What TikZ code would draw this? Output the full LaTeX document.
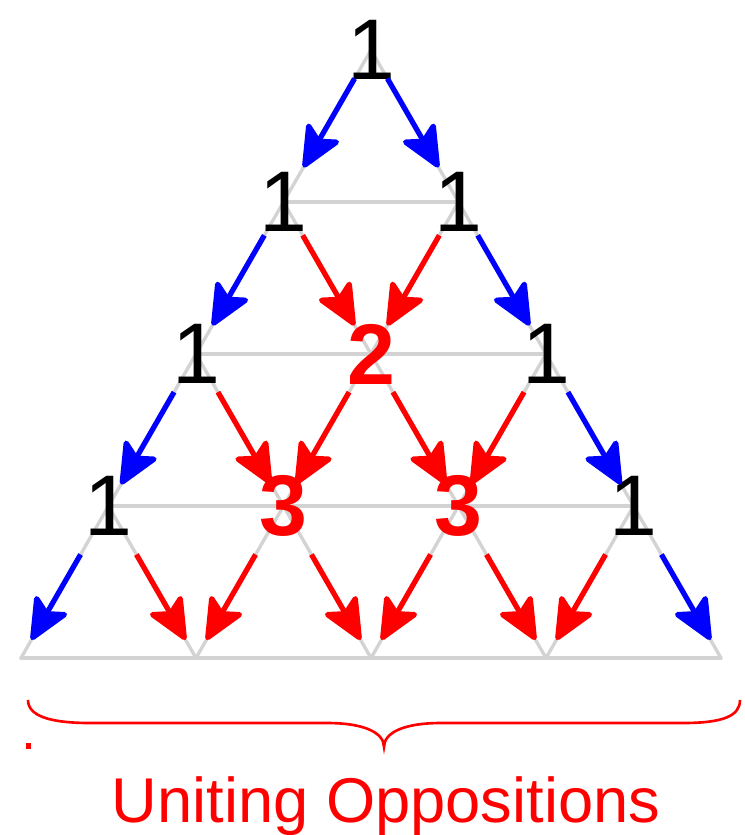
\documentclass[tikz,border=0pt]{standalone}
\usepackage{fontspec}
\setmainfont{Liberation Sans}
\usepackage{xcolor}
\definecolor{PascalRed}{HTML}{FF0000}
\definecolor{PascalBlue}{HTML}{0000FF}
\definecolor{PascalGrid}{HTML}{D3D3D3}
\usepackage{tikz}
\usetikzlibrary{arrows.meta,positioning}
\tikzset{
  pgrid/.style={draw=PascalGrid,line width=1.9pt,line cap=round},
  pone/.style={font=\fontsize{49}{49}\selectfont,text=black,inner sep=0pt},
  psum/.style={font=\fontsize{49}{49}\selectfont\bfseries,text=PascalRed,inner sep=0pt},
  pouter/.style={-{Stealth[length=27pt,width=24pt,inset=6pt,round]},draw=PascalBlue,line width=3pt},
  pinner/.style={-{Stealth[length=27pt,width=24pt,inset=6pt,round]},draw=PascalRed,line width=3pt},
  rowa/.style={shorten <=0.66cm,shorten >=0.8cm},
  rowb/.style={shorten <=0.77cm,shorten >=0.66cm},
  rowc/.style={shorten <=0.88cm,shorten >=0.5cm},
  rowd/.style={shorten <=1.12cm,shorten >=0.42cm},
  pbrace/.style={draw=PascalRed,line width=1.5pt},
  plabel/.style={font=\fontsize{36}{36}\selectfont,text=PascalRed,inner sep=0pt}
}
\begin{document}
\begin{tikzpicture}[x=0.02cm,y=-0.02cm]
  \useasboundingbox (0,0) rectangle (744,835);
  % vertices of the triangle
  \coordinate (v00) at (371,50);
  \coordinate (v10) at (283.5,202);
  \coordinate (v11) at (458.5,202);
  \coordinate (v20) at (196,354);
  \coordinate (v21) at (371,354);
  \coordinate (v22) at (546,354);
  \coordinate (v30) at (108.5,506);
  \coordinate (v31) at (283.5,506);
  \coordinate (v32) at (458.5,506);
  \coordinate (v33) at (633.5,506);
  \coordinate (v40) at (21,658);
  \coordinate (v41) at (196,658);
  \coordinate (v42) at (371,658);
  \coordinate (v43) at (546,658);
  \coordinate (v44) at (721,658);
  % grid
  \draw[pgrid] (v10) -- (v11);
  \draw[pgrid] (v20) -- (v22);
  \draw[pgrid] (v30) -- (v33);
  \draw[pgrid] (v40) -- (v44);
  \draw[pgrid] (v00) -- (v40);
  \draw[pgrid] (v11) -- (v41);
  \draw[pgrid] (v22) -- (v42);
  \draw[pgrid] (v33) -- (v43);
  \draw[pgrid] (v00) -- (v44);
  \draw[pgrid] (v10) -- (v43);
  \draw[pgrid] (v20) -- (v42);
  \draw[pgrid] (v30) -- (v41);
  % numbers
  \node[pone] (n00) at (v00) {1};
  \node[pone] (n10) at (v10) {1};
  \node[pone] (n11) at (v11) {1};
  \node[pone] (n20) at (v20) {1};
  \node[psum] (n21) at (v21) {2};
  \node[pone] (n22) at (v22) {1};
  \node[pone] (n30) at (v30) {1};
  \node[psum] (n31) at (v31) {3};
  \node[psum] (n32) at (v32) {3};
  \node[pone] (n33) at (v33) {1};
  % arrows
  \draw[pouter,rowa] (v00) -- (v10);
  \draw[pouter,rowa] (v00) -- (v11);
  \draw[pouter,rowb] (v10) -- (v20);
  \draw[pinner,rowb] (v10) -- (v21);
  \draw[pinner,rowb] (v11) -- (v21);
  \draw[pouter,rowb] (v11) -- (v22);
  \draw[pouter,rowc] (v20) -- (v30);
  \draw[pinner,rowc] (v20) -- (v31);
  \draw[pinner,rowc] (v21) -- (v31);
  \draw[pinner,rowc] (v21) -- (v32);
  \draw[pinner,rowc] (v22) -- (v32);
  \draw[pouter,rowc] (v22) -- (v33);
  \draw[pouter,rowd] (v30) -- (v40);
  \draw[pinner,rowd] (v30) -- (v41);
  \draw[pinner,rowd] (v31) -- (v41);
  \draw[pinner,rowd] (v31) -- (v42);
  \draw[pinner,rowd] (v32) -- (v42);
  \draw[pinner,rowd] (v32) -- (v43);
  \draw[pinner,rowd] (v33) -- (v43);
  \draw[pouter,rowd] (v33) -- (v44);
  % brace and caption
  \draw[pbrace] (28,700) .. controls (28,716) and (50,723) .. (90,723) -- (327,723)
    .. controls (365,723) and (384,733) .. (384,747)
    .. controls (384,733) and (403,723) .. (441,723) -- (683,723)
    .. controls (723,723) and (740,716) .. (740,700);
  \fill[PascalRed] (26,743) rectangle (31,749);
  \node[plabel,anchor=base] (caption) at (386,822) {Uniting Oppositions};
\end{tikzpicture}
\end{document}
